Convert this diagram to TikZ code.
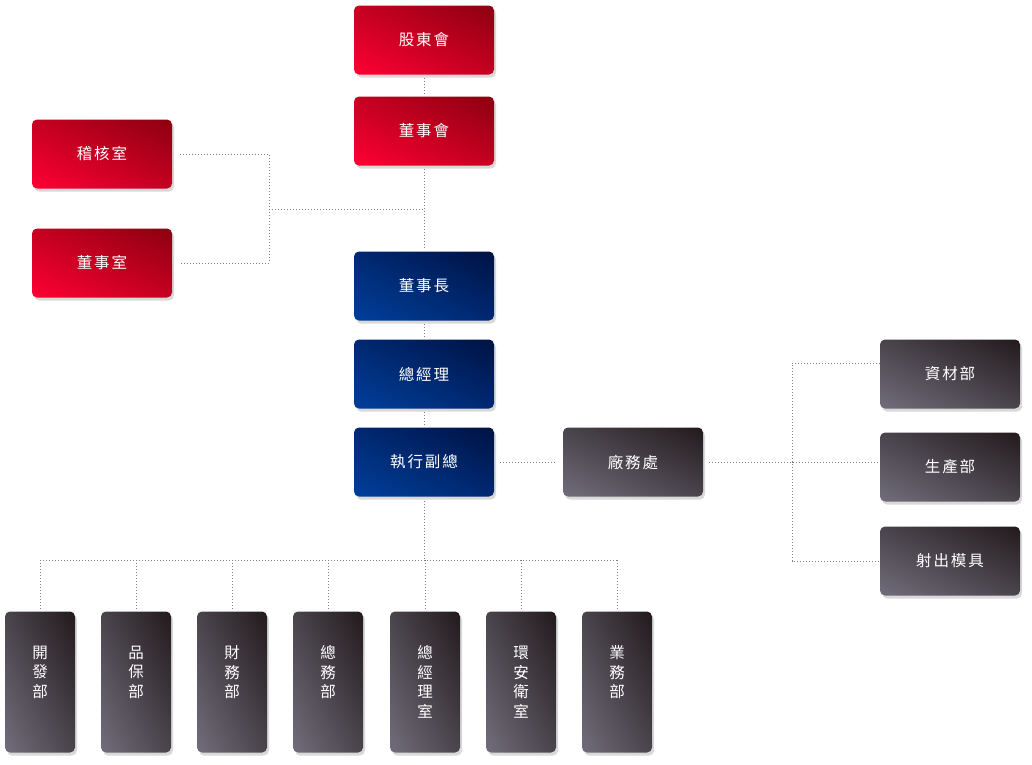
\documentclass[tikz,border=0pt]{standalone}
\usepackage{fontspec}
\newfontfamily\cjk[LetterSpace=12]{Noto Sans CJK TC}
\usetikzlibrary{shadows, shadings}

\definecolor{redlight}{HTML}{FF0033}
\definecolor{reddark}{HTML}{8C0010}
\definecolor{bluelight}{HTML}{003F9C}
\definecolor{bluedark}{HTML}{001244}
\definecolor{greylight}{HTML}{716D7B}
\definecolor{greydark}{HTML}{221A1C}

\tikzset{
    box/.style={rounded corners=5pt, minimum width=140pt, minimum height=69pt,
        text=white, font=\cjk\fontsize{15.5}{19.5}\selectfont, align=center,
        drop shadow={shadow xshift=2pt, shadow yshift=-3pt, opacity=.3}},
    redbox/.style={box, lower left=redlight, upper right=reddark,
        upper left=redlight!50!reddark, lower right=redlight!50!reddark},
    bluebox/.style={box, lower left=bluelight, upper right=bluedark,
        upper left=bluelight!50!bluedark, lower right=bluelight!50!bluedark},
    greybox/.style={box, lower left=greylight, upper right=greydark,
        upper left=greylight!50!greydark, lower right=greylight!50!greydark},
    tall/.style={minimum width=70pt, minimum height=141pt},
    link/.style={draw=gray, dotted, line width=1pt}
}

\begin{document}
\begin{tikzpicture}[x=1pt, y=-1pt]
    \useasboundingbox (0,0) rectangle (1032,764);

    \node[redbox] (shareholders) at (424,40)  {股東會};
    \node[redbox] (board)        at (424,131) {董事會};
    \node[redbox] (audit)        at (102,154) {稽核室};
    \node[redbox] (office)       at (102,263) {董事室};
    \node[bluebox] (chairman)    at (424,286) {董事長};
    \node[bluebox] (gm)          at (424,374) {總經理};
    \node[bluebox] (evp)         at (424,462) {執行副總};
    \node[greybox] (plant)       at (633,462) {廠務處};
    \node[greybox] (material)    at (950,374) {資材部};
    \node[greybox] (production)  at (950,467) {生產部};
    \node[greybox] (mold)        at (950,561) {射出模具};

    \node[greybox, tall] (dev)     at (40,682)  {開\\發\\部\\\phantom{部}};
    \node[greybox, tall] (qa)      at (136,682) {品\\保\\部\\\phantom{部}};
    \node[greybox, tall] (finance) at (232,682) {財\\務\\部\\\phantom{部}};
    \node[greybox, tall] (admin)   at (328,682) {總\\務\\部\\\phantom{部}};
    \node[greybox, tall] (gmoffice) at (425,682) {總\\經\\理\\室};
    \node[greybox, tall] (safety)  at (521,682) {環\\安\\衛\\室};
    \node[greybox, tall] (sales)   at (617,682) {業\\務\\部\\\phantom{部}};

    \coordinate (j1) at (269,209);
    \coordinate (j2) at (792,462);
    \coordinate (j3) at (424,560);

    \draw[link, shorten <=3pt, shorten >=3pt] (shareholders) -- (board);
    \draw[link, shorten <=3pt, shorten >=3pt] (board) -- (chairman);
    \draw[link, shorten <=8pt, shorten >=8pt] (audit.east) -| (j1) |- (office.east);
    \draw[link] (j1) -- (j1 -| board);
    \draw[link, shorten <=3pt, shorten >=3pt] (chairman) -- (gm);
    \draw[link, shorten <=3pt, shorten >=3pt] (gm) -- (evp);
    \draw[link, shorten <=6pt, shorten >=6pt] (evp) -- (plant);
    \draw[link, shorten <=6pt] (plant) -- (plant -| production.west);
    \draw[link] ([yshift=11pt]material.west) -| (j2) |- (mold.west);
    \draw[link, shorten <=4pt] (evp) -- (j3);
    \draw[link] (j3 -| dev) -- (j3 -| sales);
    \foreach \dept in {dev, qa, finance, admin, gmoffice, safety, sales}
        \draw[link, shorten >=3pt] (j3 -| \dept) -- (\dept.north);
\end{tikzpicture}
\end{document}
